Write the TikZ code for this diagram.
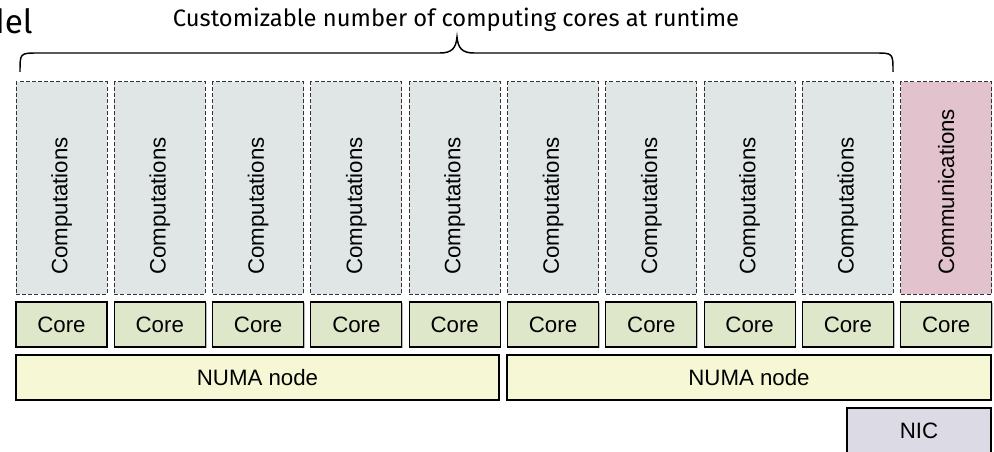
\documentclass[tikz,border=0pt]{standalone}
\usepackage{fontspec}
\setmainfont{Liberation Sans}
\newfontfamily\titlefont{Fira Sans}
\usetikzlibrary{shadows}
\definecolor{compfill}{HTML}{DFE6E5}
\definecolor{commfill}{HTML}{E2C3CD}
\definecolor{corefill}{HTML}{DFE7CA}
\definecolor{numafill}{HTML}{F6F7D4}
\definecolor{nicfill}{HTML}{DCDAE5}
\definecolor{edge}{HTML}{333333}
\tikzset{
  base/.style={rectangle, inner sep=0pt, outer sep=0pt},
  taskbox/.style={base, draw=edge, dashed, dash pattern=on 3pt off 1.6pt, line width=0.75pt,
    minimum width=91*0.75pt, minimum height=212*0.75pt},
  solidbox/.style={base, draw=black, line width=0.8pt,
    drop shadow={shadow xshift=0.9pt, shadow yshift=-0.9pt, opacity=0.55, fill=gray},
    minimum height=45*0.75pt, font=\fontsize{16.7}{20}\selectfont},
  corebox/.style={solidbox, fill=corefill, minimum width=91*0.75pt},
  vlabel/.style={rotate=90, anchor=west, inner sep=0pt, font=\fontsize{16.7}{20}\selectfont},
}
\begin{document}
\begin{tikzpicture}[x=0.75pt,y=-0.75pt]
\useasboundingbox (0,0) rectangle (994,452);
% title
\node[anchor=base east, inner sep=0pt, font=\titlefont\fontsize{25}{30}\selectfont] (model) at (33,34) {Model};
\node[anchor=base, inner sep=0pt, font=\titlefont\fontsize{17.8}{21}\selectfont] (title) at (456,27) {Customizable number of computing cores at runtime};
% brace
\draw[line width=1.1pt] (20,72) .. controls (20,53) .. (38,53) -- (440,53)
  .. controls (452,53) and (456,48) .. (457,37)
  .. controls (458,48) and (462,53) .. (474,53) -- (875,53)
  .. controls (893,53) .. (893,72);
% columns
\foreach \i in {1,...,10}{
  \pgfmathsetmacro{\cx}{16+98.3*(\i-1)+45.5}
  \ifnum\i<10
    \node[taskbox, fill=compfill] (task\i) at (\cx,188) {};
    \node[vlabel] (tasklabel\i) at ([yshift=19*0.75pt]task\i.south) {Computations};
  \else
    \node[taskbox, fill=commfill] (task\i) at (\cx,188) {};
    \node[vlabel] (tasklabel\i) at ([yshift=19*0.75pt]task\i.south) {Communications};
  \fi
  \node[corebox] (core\i) at (\cx,324.5) {Core};
}
\node[solidbox, fill=numafill, minimum width=483*0.75pt] (numa1) at (257.5,377.5) {NUMA node};
\node[solidbox, fill=numafill, minimum width=484*0.75pt] (numa2) at (749,377.5) {NUMA node};
\node[solidbox, fill=nicfill, minimum width=144*0.75pt] (nic) at (919,430.5) {NIC};
\end{tikzpicture}
\end{document}
